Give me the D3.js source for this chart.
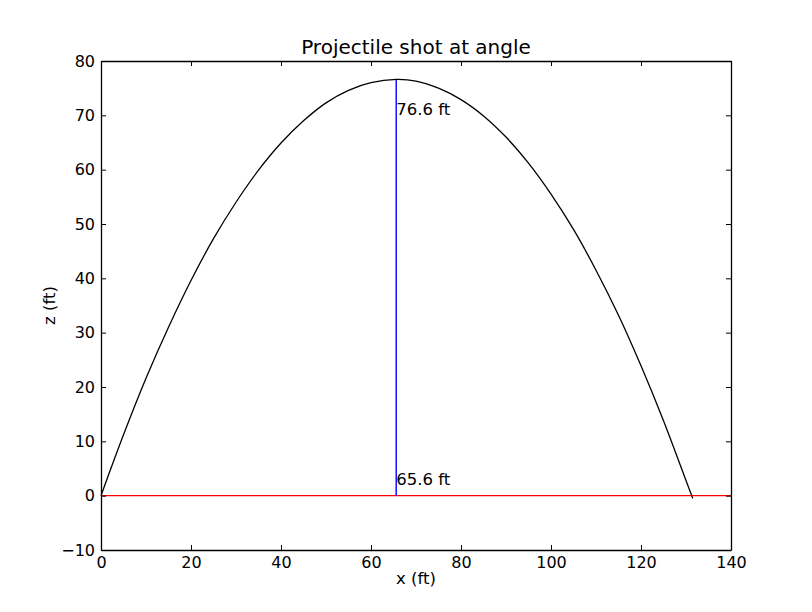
<!DOCTYPE html>
<html>
<head>
<meta charset="utf-8">
<script src="https://cdn.jsdelivr.net/npm/d3@7"></script>
<style>
  body { margin: 0; background: #fff; }
  text { font-family: "DejaVu Sans", sans-serif; }
</style>
</head>
<body>
<div id="chart"></div>
<script>
// Trajectory (x in ft, z in ft)
const pathX = [0, 5, 10, 15, 20, 25, 30, 35, 40, 45, 50, 55, 60, 65.6, 70, 75, 80, 85, 90, 95, 100, 105, 110, 115, 120, 125, 130, 131.5];
const pathZ = [0, 11.2, 21.6, 31.0, 39.6, 47.3, 54.0, 59.9, 64.9, 69.0, 72.3, 74.6, 76.0, 76.6, 76.3, 75.0, 72.9, 69.9, 66.0, 61.2, 55.5, 49.0, 41.5, 33.2, 23.9, 13.8, 2.8, -0.5];

const peakX = 65.6;
const peakZ = 76.6;
const groundZ = 0;
const xTicks = [0, 20, 40, 60, 80, 100, 120, 140];
const yTicks = [-10, 0, 10, 20, 30, 40, 50, 60, 70, 80];

const W = 812, H = 612;
const margin = { top: 61, right: 81, bottom: 62, left: 101 };
const width = W - margin.left - margin.right;
const height = H - margin.top - margin.bottom;

const svg = d3.select("#chart")
  .append("svg")
    .attr("width", W)
    .attr("height", H);

const g = svg.append("g")
  .attr("transform", `translate(${margin.left},${margin.top})`);

const x = d3.scaleLinear().domain([0, 140]).range([0, width]);
const y = d3.scaleLinear().domain([-10, 80]).range([height, 0]);

// ground line
g.append("line")
  .attr("x1", x(0)).attr("x2", x(140))
  .attr("y1", y(groundZ)).attr("y2", y(groundZ))
  .attr("stroke", "#ff0000").attr("stroke-width", 1.4);

// max height line
g.append("line")
  .attr("x1", x(peakX)).attr("x2", x(peakX))
  .attr("y1", y(groundZ)).attr("y2", y(peakZ))
  .attr("stroke", "#0000ff").attr("stroke-width", 1.4);

// trajectory
const pts = pathX.map((d, i) => [d, pathZ[i]]);
g.append("path")
  .datum(pts)
  .attr("fill", "none")
  .attr("stroke", "black")
  .attr("stroke-width", 1.3)
  .attr("d", d3.line().x(d => x(d[0])).y(d => y(d[1])).curve(d3.curveCatmullRom));

// annotations
g.append("text")
  .attr("x", x(peakX)).attr("y", y(70))
  .style("font-size", "16.5px")
  .text(`${peakZ} ft`);
g.append("text")
  .attr("x", x(peakX)).attr("y", y(2))
  .style("font-size", "16.5px")
  .text(`${peakX} ft`);

// axes: inward ticks on all four sides
const fmt = d => d < 0 ? "\u2212" + Math.abs(d) : d;
const axB = g.append("g").attr("transform", `translate(0,${height})`)
  .call(d3.axisBottom(x).tickValues(xTicks).tickSizeInner(-5).tickSizeOuter(0).tickPadding(6.5).tickFormat(fmt));
const axT = g.append("g")
  .call(d3.axisTop(x).tickValues(xTicks).tickSizeInner(-5).tickSizeOuter(0).tickFormat(""));
const axL = g.append("g")
  .call(d3.axisLeft(y).tickValues(yTicks).tickSizeInner(-5).tickSizeOuter(0).tickPadding(6).tickFormat(fmt));
const axR = g.append("g").attr("transform", `translate(${width},0)`)
  .call(d3.axisRight(y).tickValues(yTicks).tickSizeInner(-5).tickSizeOuter(0).tickFormat(""));

[axB, axT, axL, axR].forEach(a => {
  a.select(".domain").attr("stroke", "black").attr("stroke-width", 1.3);
  a.selectAll(".tick line").attr("stroke", "black");
  a.selectAll(".tick text").attr("fill", "black").style("font-size", "16px").style("font-family", "DejaVu Sans");
});

// title and labels
svg.append("text")
  .attr("x", margin.left + width / 2)
  .attr("y", margin.top - 7)
  .attr("text-anchor", "middle")
  .style("font-size", "20px")
  .text("Projectile shot at angle");

svg.append("text")
  .attr("x", margin.left + width / 2)
  .attr("y", H - 28)
  .attr("text-anchor", "middle")
  .style("font-size", "16.5px")
  .text("x (ft)");

svg.append("text")
  .attr("transform", `translate(${55},${margin.top + height / 2}) rotate(-90)`)
  .attr("text-anchor", "middle")
  .style("font-size", "16.5px")
  .text("z (ft)");
</script>
</body>
</html>
